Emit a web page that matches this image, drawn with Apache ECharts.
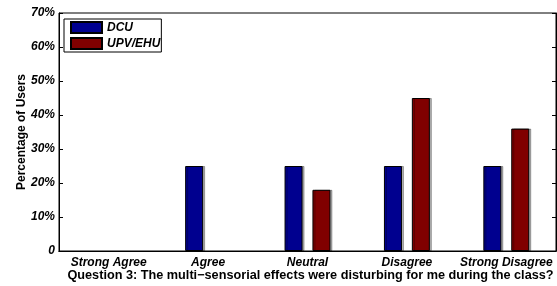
<!DOCTYPE html>
<html>
<head>
<meta charset="utf-8">
<script src="https://cdn.jsdelivr.net/npm/echarts@6/dist/echarts.min.js"></script>
<style>
html,body{margin:0;padding:0;background:#fff;}
#chart{width:557px;height:286px;}
</style>
</head>
<body>
<div id="chart"></div>
<script>
// categories and values
var categories = ['Strong Agree', 'Agree', 'Neutral', 'Disagree', 'Strong Disagree'];
var dcu = [0, 25, 25, 25, 25];
var upv = [0, 0, 18, 45, 36];
var seriesNames = ['DCU', 'UPV/EHU'];
var yTicks = [0, 10, 20, 30, 40, 50, 60, 70];

var font = 'Liberation Sans, Arial, Helvetica, sans-serif';

function barStyle(color){
	return {
		color: color,
		borderColor: '#000',
		borderWidth: 1,
		shadowColor: 'rgba(0,0,0,0.3)',
		shadowOffsetX: 2,
		shadowOffsetY: 0,
		shadowBlur: 0
	};
}

// zero values are drawn with no outline (nothing visible, as in the original)
function barData(values){
	return values.map(function(v){
		if (v === 0) {
			return { value: v, itemStyle: { borderWidth: 0, shadowColor: 'transparent', opacity: 0 } };
		}
		return v;
	});
}

var option = {
	animation: false,
	backgroundColor: '#fff',
	grid: {
		left: 59,
		right: 1,
		top: 13,
		bottom: 35,
		outerBoundsMode: 'none',
		containLabel: false,
		show: true,
		borderColor: '#000',
		borderWidth: 1
	},
	legend: {
		data: seriesNames,
		orient: 'vertical',
		left: 64,
		top: 19,
		icon: 'rect',
		itemWidth: 31,
		itemHeight: 11,
		itemGap: 3,
		padding: [2, 1, 2, 6],
		borderColor: '#000',
		borderWidth: 1,
		backgroundColor: '#fff',
		textStyle: {
			fontFamily: font,
			fontWeight: 'bold',
			fontStyle: 'italic',
			fontSize: 12,
			lineHeight: 11,
			color: '#000'
		}
	},
	xAxis: [{
		type: 'category',
		data: categories,
		name: 'Question 3: The multi\u2212sensorial effects were disturbing for me during the class?',
		nameLocation: 'middle',
		nameMoveOverlap: false,
		nameGap: 18,
		nameTextStyle: {
			fontFamily: font,
			fontWeight: 'bold',
			fontSize: 12.7,
			color: '#000',
			padding: [0, 0, 0, 6]
		},
		axisLine: { lineStyle: { color: '#000', width: 1 } },
		axisTick: { alignWithLabel: true, inside: true, length: 4, lineStyle: { color: '#000' } },
		axisLabel: {
			interval: 0,
			fontFamily: font,
			fontWeight: 'bold',
			fontStyle: 'italic',
			fontSize: 12,
			color: '#000',
			margin: 6
		}
	}, {
		type: 'category',
		data: categories,
		position: 'top',
		axisLine: { lineStyle: { color: '#000' } },
		axisTick: { alignWithLabel: true, inside: true, length: 4, lineStyle: { color: '#000' } },
		axisLabel: { show: false }
	}],
	yAxis: [{
		type: 'value',
		min: 0,
		max: 70,
		interval: 10,
		name: 'Percentage of Users',
		nameLocation: 'middle',
		nameMoveOverlap: false,
		nameGap: 31,
		nameTextStyle: {
			fontFamily: font,
			fontWeight: 'bold',
			fontSize: 12,
			color: '#000'
		},
		splitLine: { show: false },
		axisLine: { show: true, lineStyle: { color: '#000' } },
		axisTick: { show: true, inside: true, length: 4, lineStyle: { color: '#000' } },
		axisLabel: {
			fontFamily: font,
			fontWeight: 'bold',
			fontStyle: 'italic',
			fontSize: 12,
			color: '#000',
			margin: 4,
			formatter: function(v){
				return yTicks.indexOf(v) < 0 ? '' : (v === 0 ? '0' : v + '%');
			}
		}
	}, {
		type: 'value',
		min: 0,
		max: 70,
		interval: 10,
		position: 'right',
		splitLine: { show: false },
		axisLine: { show: true, lineStyle: { color: '#000' } },
		axisTick: { show: true, inside: true, length: 4, lineStyle: { color: '#000' } },
		axisLabel: { show: false }
	}],
	series: [{
		name: seriesNames[0],
		type: 'bar',
		data: barData(dcu),
		barWidth: 18,
		barGap: '55%',
		itemStyle: barStyle('#00008f')
	}, {
		name: seriesNames[1],
		type: 'bar',
		data: barData(upv),
		barWidth: 18,
		barGap: '55%',
		itemStyle: barStyle('#800000')
	}]
};

var myChart = echarts.init(document.getElementById('chart'));
myChart.setOption(option);
</script>
</body>
</html>
